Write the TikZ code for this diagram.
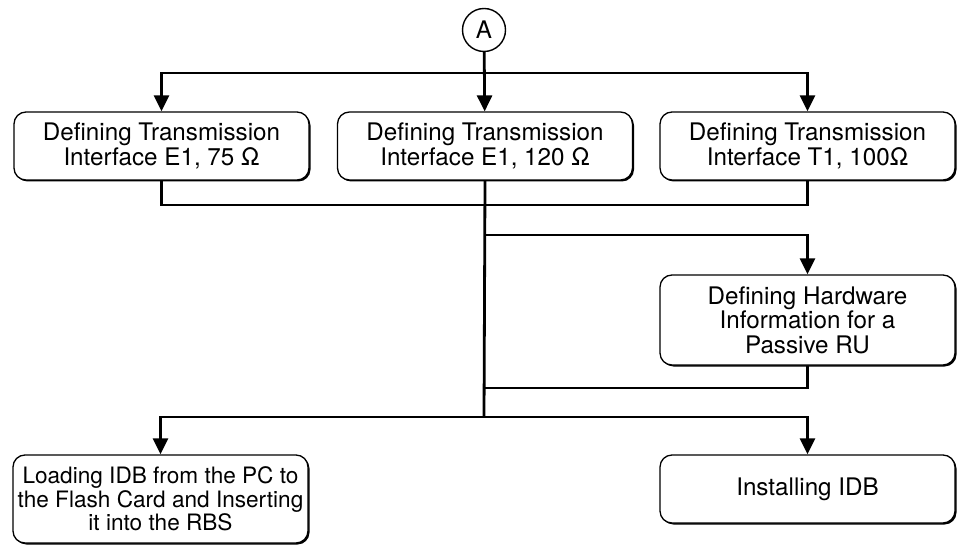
\documentclass[tikz,border=0pt]{standalone}
\usepackage{fontspec}
\setmainfont{TeX Gyre Heros}
\usetikzlibrary{arrows.meta,shadows}
\begin{document}
\begin{tikzpicture}[x=1pt,y=-1pt,
  font=\fontsize{24.2}{24.5}\selectfont,
  stepbox/.style={draw, fill=white, line width=1.3pt, rounded corners=12pt,
    align=center, inner sep=2pt, minimum width=295pt, minimum height=68pt,
    drop shadow={shadow xshift=1.5pt, shadow yshift=-1.5pt, fill=black, opacity=1}},
  conn/.style={line width=2.8pt, line join=miter},
  arr/.style={conn, -{Triangle[length=16pt,width=15pt]}},
  conncircle/.style={draw, circle, line width=1.4pt, minimum size=43pt, inner sep=0pt}]
\useasboundingbox (0,0) rectangle (957,545);

% connector start
\node[conncircle] (A) at (484,30) {A};

% transmission interface variants
\node[stepbox] (b1) at (161.5,146) {Defining Transmission\\Interface E1, 75 Ω};
\node[stepbox] (b2) at (485,146) {Defining Transmission\\Interface E1, 120 Ω};
\node[stepbox] (b3) at (807.5,146) {Defining Transmission\\Interface T1, 100Ω};

% optional hardware step
\node[stepbox, minimum height=90pt] (b4) at (807.5,320)
  {Defining Hardware\\Information for a\\Passive RU};

% IDB installation paths
\node[stepbox, minimum height=88pt, font=\fontsize{22.6}{23.3}\selectfont,
  inner xsep=0pt] (b5) at (160.5,499)
  {Loading IDB from the PC to\\the Flash Card and Inserting\\it into the RBS};
\node[stepbox] (b6) at (807.5,489) {Installing IDB};

% junction points
\coordinate (t)  at (484,73);
\coordinate (m1) at (484,205);
\coordinate (j2) at (484,235);
\coordinate (m2) at (484,388);
\coordinate (j3) at (484,417);

% branching to the interface steps
\draw[arr] (A) -- (b2);
\draw[arr] (t) -| (b1);
\draw[arr] (t) -| (b3);

% merging and trunk
\draw[conn] (b1.south) |- (m1) -| (b3.south);
\draw[conn] (b2.south) -- (j3);

% optional hardware branch
\draw[arr] (j2) -| (b4);
\draw[conn] (b4.south) |- (m2);

% final branch
\draw[arr] (j3) -| (b5);
\draw[arr] (j3) -| (b6);
\end{tikzpicture}
\end{document}
